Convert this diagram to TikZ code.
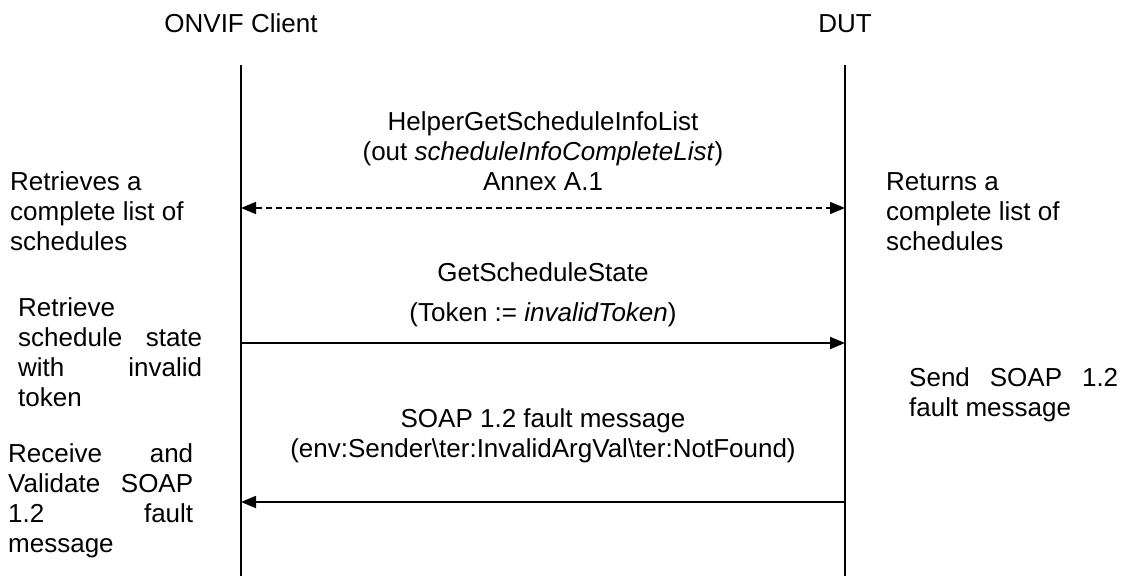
\documentclass[tikz,border=0pt]{standalone}
\usepackage{fontspec}
\setmainfont{Liberation Sans}
\usetikzlibrary{arrows.meta}
\begin{document}
\begin{tikzpicture}[x=1pt,y=-1pt,
  lifeline/.style={line width=1.4pt},
  msg/.style={line width=1.8pt,-{Triangle[length=15pt,width=12pt]}},
  dmsg/.style={line width=1.6pt,dash pattern=on 6pt off 4pt,{Triangle[length=15pt,width=12pt]}-{Triangle[length=15pt,width=12pt]}},
  txt/.style={inner sep=0pt,font=\fontsize{26}{30}\selectfont},
  ctxt/.style={txt,anchor=base},
  ltxt/.style={txt,anchor=base west}]
\useasboundingbox (0,0) rectangle (1125,576);
% lifelines
\coordinate (ct) at (241,65);
\coordinate (cb) at (241,576);
\coordinate (dt) at (845,65);
\coordinate (db) at (845,576);
\draw[lifeline] (ct) -- (cb);
\draw[lifeline] (dt) -- (db);
% headers
\node[ctxt] (hc) at (241,32) {ONVIF Client};
\node[ctxt] (hd) at (845,32) {DUT};
% message 1
\node[ctxt] (m1) at (543,130) {\begin{tabular}[t]{@{}c@{}}HelperGetScheduleInfoList\\(out \textit{scheduleInfoCompleteList})\\Annex A.1\end{tabular}};
\coordinate (c1) at (241,208);
\coordinate (d1) at (845,208);
\draw[dmsg] (c1) -- (d1);
\node[ltxt] (l1) at (10,190) {\begin{tabular}[t]{@{}l@{}}Retrieves a\\complete list of\\schedules\end{tabular}};
\node[ltxt] (r1) at (886,190) {\begin{tabular}[t]{@{}l@{}}Returns a\\complete list of\\schedules\end{tabular}};
% message 2
\node[ctxt] (m2a) at (543,281) {GetScheduleState};
\node[ctxt] (m2b) at (543,321) {(Token := \textit{invalidToken})};
\coordinate (c2) at (241,343);
\coordinate (d2) at (845,343);
\draw[msg] (c2) -- (d2);
\node[ltxt] (l2) at (18,316) {\begin{tabular}[t]{@{}l@{}}Retrieve\\\makebox[184pt][s]{schedule state}\\\makebox[184pt][s]{with invalid}\\token\end{tabular}};
% message 3
\node[ctxt] (m3) at (543,427) {\begin{tabular}[t]{@{}c@{}}SOAP 1.2 fault message\\(env:Sender\textbackslash ter:InvalidArgVal\textbackslash ter:NotFound)\end{tabular}};
\coordinate (c3) at (241,502);
\coordinate (d3) at (845,502);
\draw[msg] (d3) -- (c3);
\node[ltxt] (r2) at (909,386) {\begin{tabular}[t]{@{}l@{}}\makebox[209pt][s]{Send SOAP 1.2}\\fault message\end{tabular}};
\node[ltxt] (l3) at (8,462) {\begin{tabular}[t]{@{}l@{}}\makebox[185pt][s]{Receive and}\\\makebox[185pt][s]{Validate SOAP}\\\makebox[185pt][s]{1.2 fault}\\message\end{tabular}};
\end{tikzpicture}
\end{document}
